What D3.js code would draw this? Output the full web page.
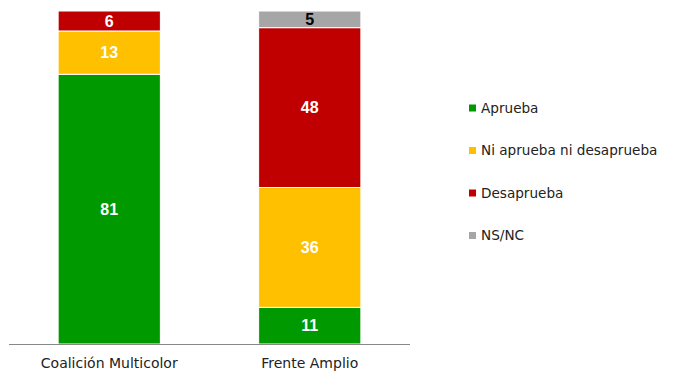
<!DOCTYPE html>
<html>
<head>
<meta charset="utf-8">
<script src="https://cdn.jsdelivr.net/npm/d3@7"></script>
<style>
  body { margin: 0; background: #fff; }
  text { font-family: "DejaVu Sans", sans-serif; }
</style>
</head>
<body>
<div id="chart"></div>
<script>
const PARTIES = ["Coalición Multicolor", "Frente Amplio"];
const SERIES = ["Aprueba", "Ni aprueba ni desaprueba", "Desaprueba", "NS/NC"];
const APRUEBA = [81, 11];
const NI_NI = [13, 36];
const DESAPRUEBA = [6, 48];
const NSNC = [0, 5];
const COLORS = ["#009900", "#FFC000", "#C00000", "#A6A6A6"];
const LABEL_COLORS = ["#fff", "#fff", "#fff", "#000"];

const W = 674, H = 390;
const rows = PARTIES.map((p, i) => ({
	party: p,
	"Aprueba": APRUEBA[i],
	"Ni aprueba ni desaprueba": NI_NI[i],
	"Desaprueba": DESAPRUEBA[i],
	"NS/NC": NSNC[i]
}));

const stacked = d3.stack().keys(SERIES)(rows);

const x = d3.scaleBand().domain(PARTIES).range([9, 410]).paddingInner(0.49).paddingOuter(0.245);
const y = d3.scaleLinear().domain([0, 100]).range([344, 11]);

const svg = d3.select("#chart").append("svg")
	.attr("width", W)
	.attr("height", H);

const layers = svg.selectAll("g.layer")
	.data(stacked)
	.enter().append("g")
	.attr("class", "layer")
	.attr("fill", (d, i) => COLORS[i]);

layers.selectAll("rect")
	.data((d) => d.filter((s) => s[1] - s[0] > 0))
	.enter().append("rect")
	.attr("x", (d) => x(d.data.party))
	.attr("width", x.bandwidth())
	.attr("y", (d) => y(d[1]))
	.attr("height", (d) => y(d[0]) - y(d[1]))
	.attr("stroke", "#fff")
	.attr("stroke-width", 1);

layers.each(function (layer, li) {
	d3.select(this).selectAll("text")
		.data(layer.filter((s) => s[1] - s[0] > 0))
		.enter().append("text")
		.attr("x", (d) => x(d.data.party) + x.bandwidth() / 2)
		.attr("y", (d) => (y(d[0]) + y(d[1])) / 2)
		.attr("dy", "0.36em")
		.attr("text-anchor", "middle")
		.style("font-family", "'Liberation Sans', Arial, sans-serif")
		.style("font-size", "16px")
		.style("font-weight", "bold")
		.attr("fill", LABEL_COLORS[li])
		.text((d) => d[1] - d[0]);
});

// axis
const axis = svg.append("g")
	.attr("transform", `translate(0,${y(0)})`)
	.call(d3.axisBottom(x).tickSize(0).tickPadding(14));
axis.select(".domain").attr("stroke", "#888").attr("d", "M9,0.5H410");
axis.selectAll("text")
	.style("font-size", "14px")
	.style("font-family", "'DejaVu Sans'")
	.attr("fill", "#222");

// legend
const legend = svg.selectAll("g.legend")
	.data(SERIES)
	.enter().append("g")
	.attr("class", "legend")
	.attr("transform", (d, i) => `translate(469,${108 + i * 42.5})`);
legend.append("rect")
	.attr("x", 0).attr("y", -3.5)
	.attr("width", 7).attr("height", 7)
	.attr("fill", (d, i) => COLORS[i]);
legend.append("text")
	.attr("x", 12)
	.attr("dy", "0.36em")
	.style("font-size", "13.6px")
	.attr("fill", "#222")
	.text((d) => d);
</script>
</body>
</html>
